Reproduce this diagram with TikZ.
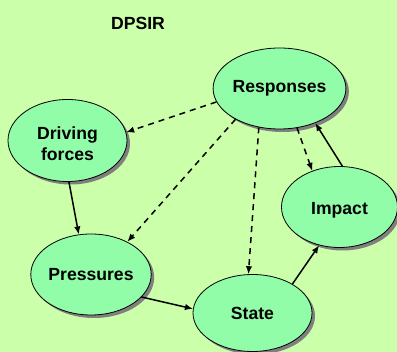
\documentclass[tikz,border=0pt]{standalone}
\usepackage{fontspec}
\setmainfont{Liberation Sans}
\usetikzlibrary{shapes.geometric,arrows.meta,shadows}
\definecolor{bgcol}{HTML}{CCFFAA}
\definecolor{ellcol}{HTML}{92FDA8}
\definecolor{shcol}{HTML}{7F7F7F}
\begin{document}
\begin{tikzpicture}[x=1pt,y=-1pt,
  lbl/.style={font=\fontsize{17.6}{21}\selectfont\bfseries},
  stage/.style={ellipse, draw=black, line width=0.8pt, fill=ellcol, inner sep=0pt,
    align=center, lbl,
    drop shadow={shadow xshift=3pt, shadow yshift=-3pt, fill=shcol, opacity=1}},
  flow/.style={line width=1.5pt, -{Latex[length=8pt,width=6.5pt]}},
  policy/.style={flow, dash pattern=on 6pt off 5pt}]
\fill[bgcol] (0,0) rectangle (397,352);
\useasboundingbox (0,0) rectangle (397,352);
\node[lbl] (title) at (138,23) {DPSIR};
\node[stage, minimum width=117pt, minimum height=81pt] (resp) at (279.5,88.5) {Responses};
\node[stage, minimum width=119pt, minimum height=82pt] (drive) at (67.5,140.5) {\rule{0pt}{20pt}Driving\\forces};
\node[stage, minimum width=116pt, minimum height=81pt] (imp) at (339.5,207) {\rule{0pt}{19pt}Impact};
\node[stage, minimum width=118pt, minimum height=81pt] (press) at (91,274.5) {Pressures};
\node[stage, minimum width=119pt, minimum height=77pt] (state) at (252.5,313) {State};
\draw[policy] (resp.192) -- (drive.8);
\draw[policy] (resp.215) -- (press.42);
\draw[policy] (resp.242) -- (state.96);
\draw[policy] (resp.294) -- (imp.127);
\draw[flow] (imp.86) -- (resp.316);
\draw[flow] (drive.272) -- (press.107);
\draw[flow] (press.336) -- (state.176);
\draw[flow] (state.36) -- (imp.242);
\end{tikzpicture}
\end{document}
